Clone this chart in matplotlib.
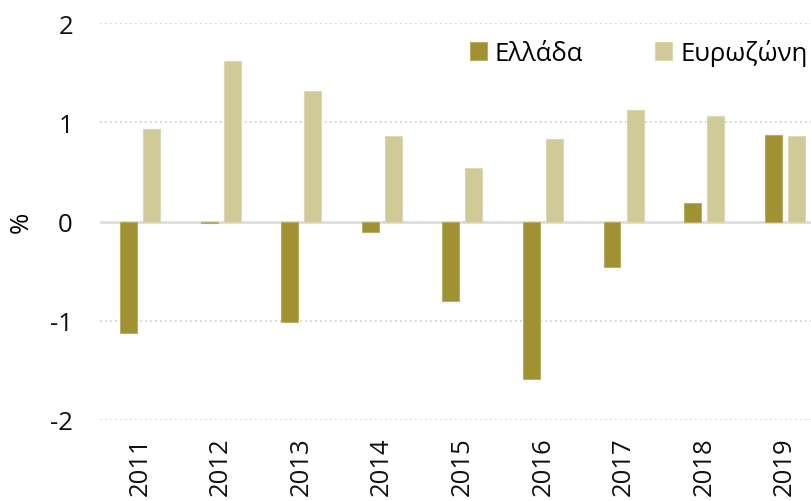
import numpy as np
import matplotlib
matplotlib.use("Agg")
import matplotlib.pyplot as plt

years = ["2011", "2012", "2013", "2014", "2015", "2016", "2017", "2018", "2019"]
greece = [-1.12, -0.02, -1.01, -0.11, -0.80, -1.59, -0.46, 0.19, 0.87]
eurozone = [0.93, 1.62, 1.31, 0.86, 0.54, 0.83, 1.12, 1.06, 0.86]
labels = ["Ελλάδα", "Ευρωζώνη"]

plt.rcParams['font.family'] = ['Open Sans', 'DejaVu Sans']

W, H = 811, 502
fig = plt.figure(figsize=(W / 100, H / 100), dpi=100)
ax = fig.add_axes([100 / W, 81 / H, 725 / W, 397 / H])

x = np.arange(len(years))
w = 0.21
ax.bar(x - 0.143, greece, w, color="#a09233", edgecolor="#b8ad60", linewidth=0.8,
       label=labels[0], zorder=3)
ax.bar(x + 0.143, eurozone, w, color="#cfca98", edgecolor="#dcd8b2", linewidth=0.8,
       label=labels[1], zorder=3)

ax.set_xlim(-0.496, 8.5)
ax.set_ylim(-2, 2)
ax.set_yticks([-2, -1, 0, 1, 2])
ax.set_yticklabels(["-2", "-1", "0", "1", "2"])
ax.set_xticks(x)
ax.set_xticklabels(years, rotation=90)
ax.tick_params(axis="both", length=0, labelsize=18.5, colors="#111111")
ax.tick_params(axis="y", pad=19.5)
ax.tick_params(axis="x", pad=12)

for v in [-2, -1, 1, 2]:
    ax.axhline(v, color="#cccccc", linestyle=(0, (1, 2)), linewidth=1.2, zorder=1)
ax.axhline(0, color="#dddddd", linewidth=2, zorder=2)

for s in ax.spines.values():
    s.set_visible(False)

ax.set_ylabel("%", fontsize=18.5)
ax.yaxis.set_label_coords(-0.092, 0.5)

fig.legend(loc="upper left", bbox_to_anchor=(470 / W, 1 - 40 / H), ncol=2, frameon=False,
           fontsize=18.5, handlelength=0.66, handleheight=0.66, handletextpad=0.31,
           columnspacing=2.8, borderaxespad=0, borderpad=0)

fig.savefig("out.png", dpi=100)
